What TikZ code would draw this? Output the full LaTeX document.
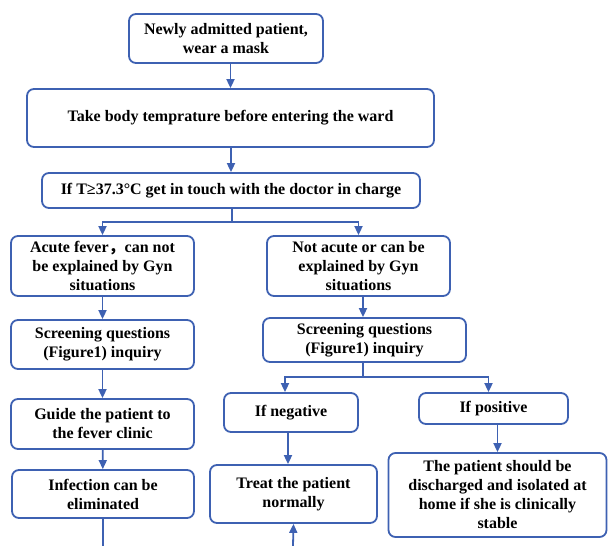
\documentclass[tikz,border=0pt]{standalone}
\usepackage{fontspec}
\setmainfont{Liberation Serif}
\newfontfamily\cjk{Noto Sans CJK SC}
\usetikzlibrary{arrows.meta}
\definecolor{flowblue}{RGB}{62,97,178}

\begin{document}
\begin{tikzpicture}[x=1pt,y=-1pt,
  box/.style={draw=flowblue,line width=1.8pt,rounded corners=7pt,align=center,inner sep=0pt,
    font=\fontsize{16}{19}\selectfont\bfseries},
  link/.style={draw=flowblue,line width=1.8pt},
  arr/.style={link,-{Triangle[length=9pt,width=8pt]}}]
\useasboundingbox (0,0) rectangle (608,546);
%top of the chart
\node[box,minimum width=194pt,minimum height=49pt] at (226,38.5) (Admit) {Newly admitted patient,\\wear a mask};
\node[box,minimum width=407pt,minimum height=58pt] at (230.5,118) (Temp) {Take body temprature before entering the ward};
\node[box,minimum width=378pt,minimum height=35pt] at (231,190.5) (Touch) {If T≥37.3°C get in touch with the doctor in charge};
%left branch
\node[box,minimum width=183pt,minimum height=60pt] at (102.5,266) (Acute) {Acute fever{\cjk ，}can not\\be explained by Gyn\\situations};
\node[box,minimum width=183pt,minimum height=49pt] at (102.5,344.5) (ScreenL) {Screening questions\\(Figure1) inquiry};
\node[box,minimum width=183pt,minimum height=50pt] at (102.5,424) (Guide) {Guide the patient to\\the fever clinic};
\node[box,minimum width=182pt,minimum height=48pt] at (103,494) (Infect) {Infection can be\\eliminated};
%right branch
\node[box,minimum width=183pt,minimum height=60pt] at (358.5,266) (NotAcute) {Not acute or can be\\explained by Gyn\\situations};
\node[box,minimum width=203pt,minimum height=44pt] at (364.5,340) (ScreenR) {Screening questions\\(Figure1) inquiry};
\node[box,minimum width=134pt,minimum height=39pt] at (291,412.5) (Neg) {If negative};
\node[box,minimum width=149pt,minimum height=31pt] at (493.5,408.5) (Pos) {If positive};
\node[box,minimum width=167pt,minimum height=58pt] at (293.5,494) (Treat) {Treat the patient\\normally};
\node[box,minimum width=218pt,minimum height=84pt] at (497.5,495) (Home) {The patient should be\\discharged and isolated at\\home if she is clinically\\stable};
\coordinate (Split) at (232,222);
\coordinate (SplitR) at (363,377);
\coordinate (OutL) at (103,546);
\coordinate (InT) at (293,546);
\draw[arr] (Temp.north |- Admit.south) -- (Temp.north);
\draw[arr] (Touch.north |- Temp.south) -- (Touch.north);
\draw[link] (Touch.south -| Split) -- (Split);
\draw[arr] (Split) -| (Acute.north);
\draw[arr] (Split) -| (NotAcute.north);
\draw[arr] (Acute) -- (ScreenL);
\draw[arr] (ScreenL) -- (Guide);
\draw[arr] (Guide) -- (Infect);
\draw[link] (Infect) -- (OutL);
\draw[arr] (NotAcute.south -| SplitR) -- (SplitR |- ScreenR.north);
\draw[link] (ScreenR.south -| SplitR) -- (SplitR);
\draw[arr] (SplitR) -| ([xshift=-6pt]Neg.north);
\draw[arr] (SplitR) -| ([xshift=-5pt]Pos.north);
\draw[arr] ([xshift=-3pt]Neg.south) -- ([xshift=-3pt]Neg.south |- Treat.north);
\draw[arr] (Pos.south -| Home) -- (Home.north);
\draw[arr] (InT) -- (Treat.south);
\end{tikzpicture}
\end{document}
